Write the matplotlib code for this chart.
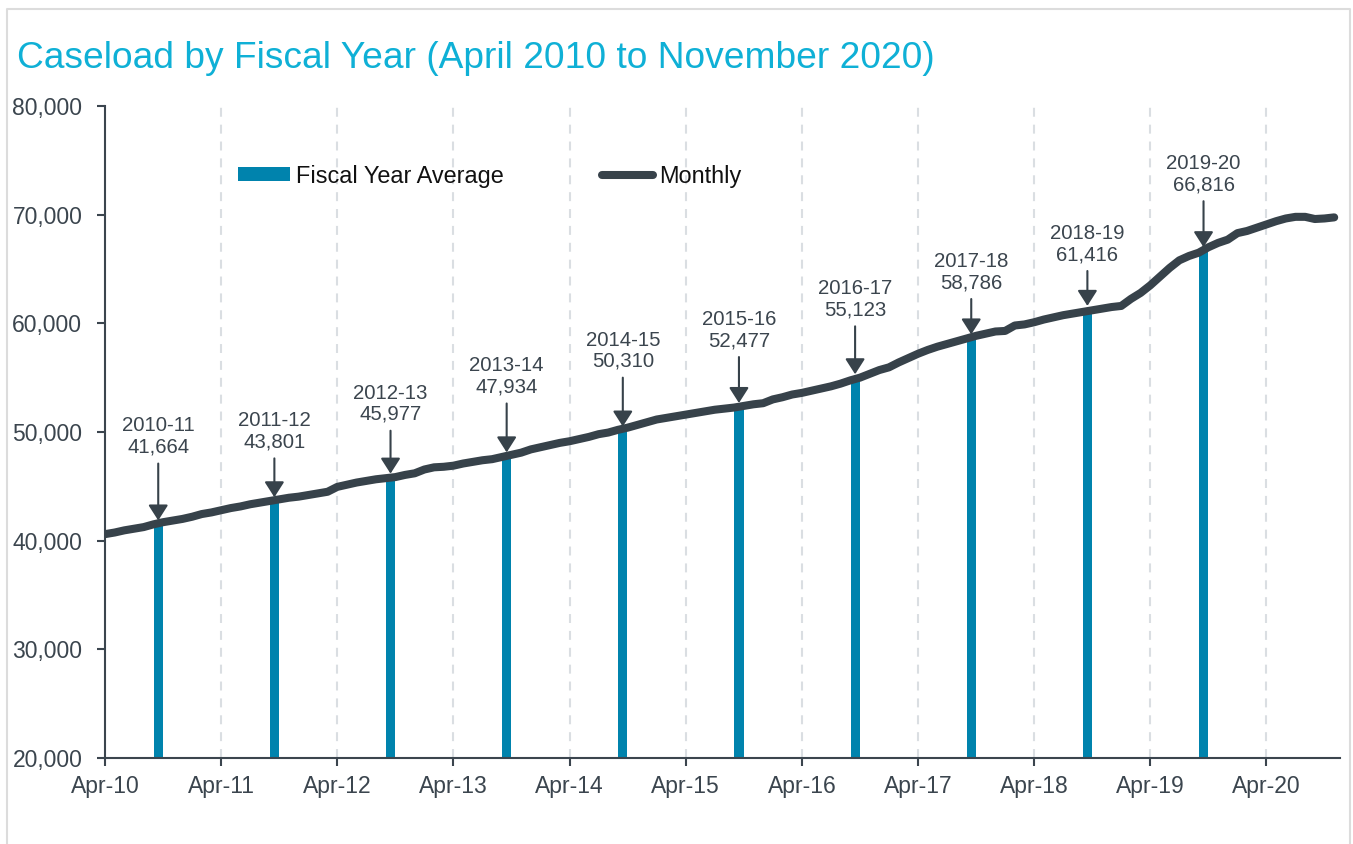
import matplotlib
matplotlib.use("Agg")
import matplotlib.pyplot as plt
import numpy as np
from matplotlib.lines import Line2D
from matplotlib.ticker import FuncFormatter

plt.rcParams['font.family'] = ['Liberation Sans', 'DejaVu Sans']

# ---------------- data ----------------
monthly = [
    40600, 40750, 40950, 41100, 41250, 41500, 41700, 41850, 42000, 42200, 42450, 42600,
    42800, 43000, 43150, 43350, 43500, 43650, 43800, 43950, 44050, 44200, 44350, 44500,
    44950, 45150, 45350, 45500, 45650, 45750, 45850, 46050, 46200, 46550, 46750, 46800,
    46900, 47100, 47250, 47400, 47500, 47700, 47900, 48100, 48400, 48600, 48800, 49000,
    49150, 49350, 49550, 49800, 49950, 50200, 50400, 50650, 50900, 51150, 51300, 51450,
    51600, 51750, 51900, 52050, 52150, 52250, 52400, 52550, 52650, 53000, 53200, 53450,
    53600, 53800, 54000, 54200, 54450, 54750, 55000, 55350, 55700, 55950, 56400, 56800,
    57200, 57550, 57850, 58100, 58350, 58600, 58850, 59050, 59250, 59300, 59800, 59900,
    60100, 60350, 60550, 60750, 60900, 61050, 61200, 61350, 61500, 61600, 62250, 62800,
    63500, 64300, 65100, 65800, 66200, 66500, 67000, 67400, 67700, 68300, 68500, 68800,
    69100, 69400, 69650, 69800, 69800, 69600, 69650, 69750,
]
fiscal_years = ["2010-11", "2011-12", "2012-13", "2013-14", "2014-15",
                "2015-16", "2016-17", "2017-18", "2018-19", "2019-20"]
fy_avg = [41664, 43801, 45977, 47934, 50310, 52477, 55123, 58786, 61416, 66816]
xtick_labels = ["Apr-10", "Apr-11", "Apr-12", "Apr-13", "Apr-14", "Apr-15",
                "Apr-16", "Apr-17", "Apr-18", "Apr-19", "Apr-20"]
yticks = [20000, 30000, 40000, 50000, 60000, 70000, 80000]

# layout only: arrow length above each fiscal-year value (points)
arrow_len_pt = [42.5, 29.5, 32.4, 36.7, 36.7, 34.6, 36.0, 27.0, 26.6, 34.6]

# ---------------- style ----------------
W, H = 1353, 844
line_col = '#37424a'
bar_col = '#0083ad'
txt_col = '#3b454e'
title_col = '#0fb0d6'

fig = plt.figure(figsize=(W / 100, H / 100), dpi=100)
ax = fig.add_axes([105 / W, 1 - 758 / H, (1340 - 105) / W, (758 - 106) / H])

x = np.arange(len(monthly))
bar_x = 5.5 + 12 * np.arange(len(fy_avg))
tick_x = 12 * np.arange(len(xtick_labels))

bars = ax.bar(bar_x, fy_avg, width=0.95, color=bar_col, zorder=2,
              label='Fiscal Year Average')
line, = ax.plot(x, monthly, color=line_col, lw=5.8, solid_capstyle='round',
                solid_joinstyle='round', zorder=3, label='Monthly')

for t in tick_x[1:]:
    ax.axvline(t, color='#dadee2', lw=1.5, ls=(0, (4.3, 3.8)), zorder=0)

ax.set_xlim(0, 127.6)
ax.set_ylim(20000, 80000)
ax.set_xticks(tick_x)
ax.set_xticklabels(xtick_labels)
ax.set_yticks(yticks)
ax.yaxis.set_major_formatter(FuncFormatter(lambda v, p: f"{int(v):,}"))

for s in ['top', 'right']:
    ax.spines[s].set_visible(False)
for s in ['left', 'bottom']:
    ax.spines[s].set_color(txt_col)
    ax.spines[s].set_linewidth(1.5)

ax.tick_params(axis='y', length=5.8, width=1.5, pad=10.5, colors=txt_col, labelsize=16.5)
ax.tick_params(axis='x', length=5.8, width=1.5, pad=6.5, colors=txt_col, labelsize=16.5)

for m, v, lab, L in zip(bar_x, fy_avg, fiscal_years, arrow_len_pt):
    ax.annotate('', xy=(m, v), xytext=(0, L), textcoords='offset points',
                arrowprops=dict(arrowstyle='-|>,head_length=0.47,head_width=0.3',
                                color=line_col, lw=1.5, shrinkA=0, shrinkB=1.5,
                                mutation_scale=20), zorder=4)
    ax.annotate(f"{lab}\n{v:,}", xy=(m, v), xytext=(0, L + 19.4),
                textcoords='offset points', ha='center', va='center',
                fontsize=14.7, color=txt_col, linespacing=1.15, zorder=4)

leg = ax.legend(handles=[bars, line], labels=['Fiscal Year Average', 'Monthly'],
                loc='center left', bbox_to_anchor=((238 - 105) / 1235, (758 - 176) / 652),
                ncol=2, frameon=False, fontsize=16.9, handlelength=2.2,
                handleheight=0.55, handletextpad=0.25, columnspacing=4.2,
                borderpad=0, borderaxespad=0)
for t in leg.get_texts():
    t.set_color('#111111')

fig.text(17 / W, 1 - 68.5 / H, "Caseload by Fiscal Year (April 2010 to November 2020)",
         fontsize=26.7, color=title_col, ha='left', va='baseline')

fig.add_artist(Line2D([7 / W, 7 / W, 1350 / W, 1350 / W], [0, 1 - 9 / H, 1 - 9 / H, 0],
                      transform=fig.transFigure, color='#dcdcdc', lw=1.5))

fig.savefig('out.png', dpi=100)
